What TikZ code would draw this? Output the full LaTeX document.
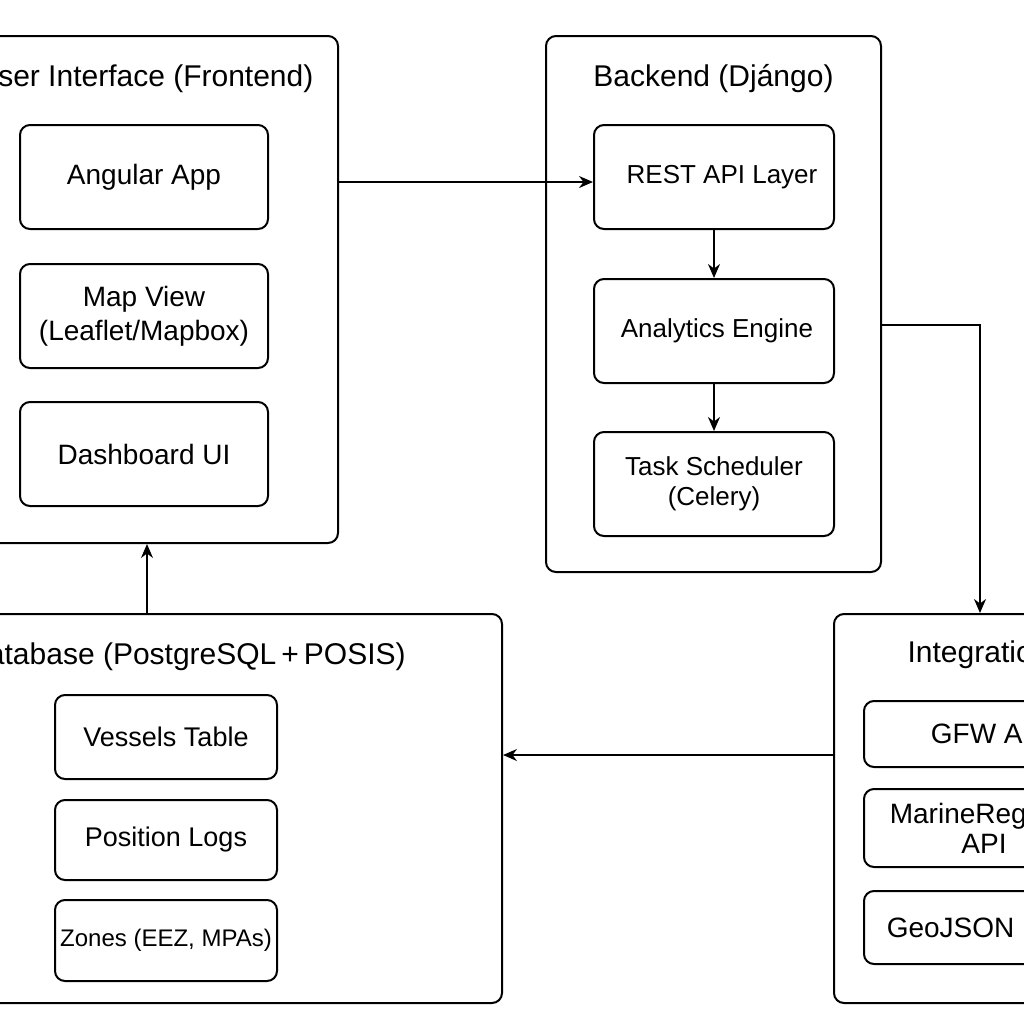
\documentclass[tikz,border=0pt]{standalone}
\usepackage{fontspec}
\setmainfont{Liberation Sans}
\usetikzlibrary{arrows.meta}
\begin{document}
\begin{tikzpicture}[x=0.5pt,y=-0.5pt,
  outbox/.style={draw,line width=1pt,rounded corners=5pt,inner sep=0pt},
  inbox/.style={draw,line width=1pt,rounded corners=5pt,inner sep=0pt,align=center,font=\fontsize{14pt}{17pt}\selectfont},
  smallfont/.style={font=\fontsize{13pt}{15pt}\selectfont},
  ttl/.style={font=\fontsize{15pt}{18pt}\selectfont,inner sep=0pt},
  arr/.style={line width=0.9pt,-{Stealth[length=7pt,width=6pt]}}]
\useasboundingbox (0,0) rectangle (1024,1024);
\fill[white] (0,0) rectangle (1024,1024);
\clip (0,0) rectangle (1024,1024);
% Frontend
\node[outbox,minimum width=193pt,minimum height=253.5pt] (front) at (145,289.5) {};
\node[ttl] (fronttitle) at (145,79) {User Interface (Frontend)};
\node[inbox,minimum width=124pt,minimum height=52pt] (ang) at (144,177) {Angular App};
\node[inbox,minimum width=124pt,minimum height=52pt] (map) at (144,316) {Map View\\(Leaflet/Mapbox)};
\node[inbox,minimum width=124pt,minimum height=52pt] (dash) at (144,454) {Dashboard UI};
% Backend
\node[outbox,minimum width=167.5pt,minimum height=268pt] (back) at (713.5,304) {};
\node[ttl] (backtitle) at (713.5,79) {Backend (Djángo)};
\node[inbox,smallfont,minimum width=120pt,minimum height=52pt] (rest) at (714,177) {\hspace*{8pt}REST API Layer};
\node[inbox,smallfont,minimum width=120pt,minimum height=52pt] (ana) at (714,331) {\hspace*{3pt}Analytics Engine};
\node[inbox,smallfont,minimum width=120pt,minimum height=52pt] (task) at (714,484) {Task Scheduler\\(Celery)};
% Integrations
\node[outbox,minimum width=150pt,minimum height=194.5pt] (integ) at (984,808.5) {};
\node[ttl] (integtitle) at (986,655) {Integrations};
\node[inbox,minimum width=120pt,minimum height=33pt] (gfw) at (984,734) {\hspace*{6pt}GFW API};
\node[inbox,font=\fontsize{14pt}{15pt}\selectfont,minimum width=120pt,minimum height=39pt] (marine) at (984,828) {MarineRegions\\API};
\node[inbox,minimum width=120pt,minimum height=36.5pt] (geo) at (984,927.5) {GeoJSON Files};
% Database
\node[outbox,minimum width=311pt,minimum height=194.5pt] (db) at (191,808.5) {};
\node[ttl] (dbtitle) at (186,657) {Database (PostgreSQL\,+\,POSIS)};
\node[inbox,font=\fontsize{13.5pt}{16pt}\selectfont,minimum width=111pt,minimum height=42pt] (ves) at (166,737) {Vessels Table};
\node[inbox,font=\fontsize{13.5pt}{16pt}\selectfont,minimum width=111pt,minimum height=40pt] (pos) at (166,840) {Position Logs};
\node[inbox,minimum width=111pt,minimum height=40.5pt,font=\fontsize{12pt}{15pt}\selectfont] (zones) at (166,940.5) {Zones (EEZ, MPAs)};
% Connectors
\draw[arr] (front.east |- 0,182) -- (rest.west |- 0,182);
\draw[arr] (rest.south) -- (ana.north);
\draw[arr] (ana.south) -- (task.north);
\draw[arr] (back.east |- 0,325) -| ([xshift=-2pt]integ.north);
\draw[arr] (integ.west |- 0,755) -- (db.east |- 0,755);
\draw[arr] (db.north -| 147,0) -- (front.south -| 147,0);
\end{tikzpicture}
\end{document}
